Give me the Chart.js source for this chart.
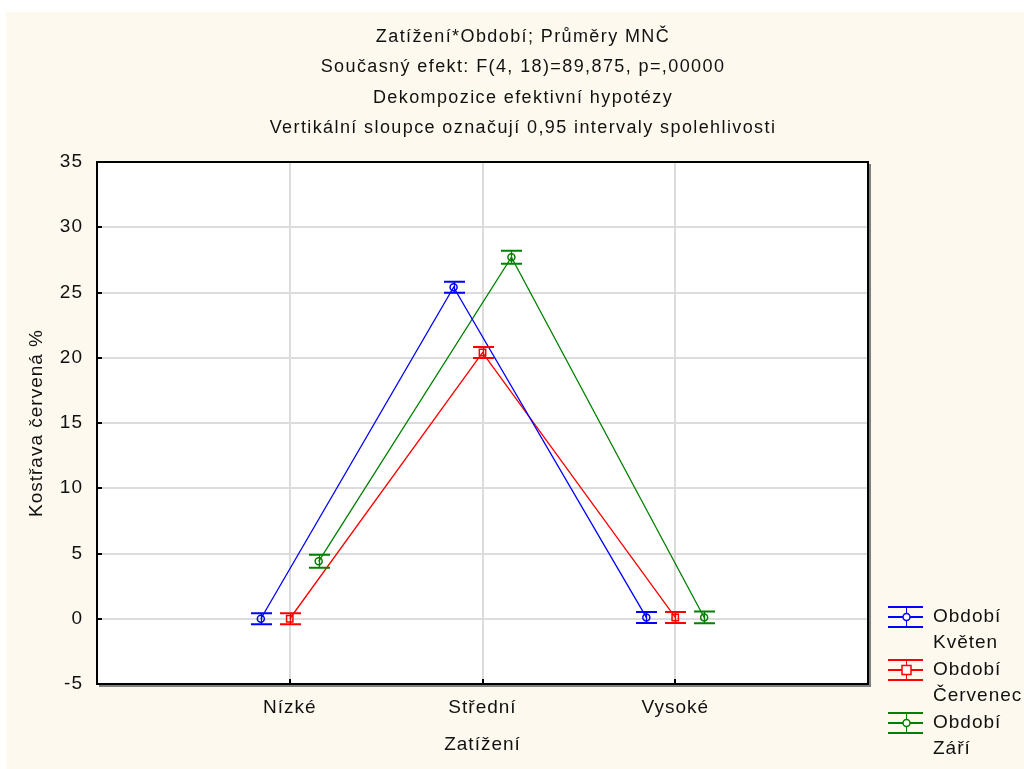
<!DOCTYPE html>
<html>
<head>
<meta charset="utf-8">
<script src="https://cdn.jsdelivr.net/npm/chart.js@4/dist/chart.umd.min.js"></script>
<style>
  html, body { margin: 0; padding: 0; background: #fff; }
  #wrap { position: absolute; left: 6px; top: 12px; width: 1018px; height: 757px; }
</style>
</head>
<body>
<div id="wrap"><canvas id="my-chart" width="1018" height="757"></canvas></div>
<script>
// categories and series
const zatizeni = ['Nízké', 'Střední', 'Vysoké'];
const obdobi = ['Květen', 'Červenec', 'Září'];
const kveten = [0.0, 25.4, 0.1];
const kvetenCI = [0.42, 0.42, 0.42];
const cervenec = [0.0, 20.4, 0.1];
const cervenecCI = [0.42, 0.42, 0.42];
const zari = [4.4, 27.7, 0.1];
const zariCI = [0.5, 0.5, 0.45];
const titleLines = [
  'Zatížení*Období; Průměry MNČ',
  'Současný efekt: F(4, 18)=89,875, p=,00000',
  'Dekompozice efektivní hypotézy',
  'Vertikální sloupce označují 0,95 intervaly spolehlivosti'
];
const yTitle = 'Kostřava červená %';
const xTitle = 'Zatížení';

const FONT = '"Liberation Sans", Arial, sans-serif';
const colors = ['#0000ff', '#ff0000', '#008000'];
const shapes = ['circle', 'rect', 'circle'];
const offsets = [-0.15, 0, 0.15];

const makeSet = (i, vals, ci) => ({
  label: 'Období ' + obdobi[i],
  data: vals.map((v, j) => ({ x: j + 1 + offsets[i], y: v, ci: ci[j] })),
  borderColor: colors[i],
  borderWidth: 1.3,
  backgroundColor: 'rgba(0,0,0,0)',
  pointStyle: shapes[i],
  pointRadius: shapes[i] === 'rect' ? 4.5 : 3.5,
  pointBorderColor: colors[i],
  pointBorderWidth: 1.5,
  tension: 0
});

const datasets = [
  makeSet(0, kveten, kvetenCI),
  makeSet(1, cervenec, cervenecCI),
  makeSet(2, zari, zariCI)
];

// background, frame, error bars, titles and legend
const extras = {
  id: 'extras',
  beforeDraw(chart) {
    const { ctx, chartArea: a } = chart;
    ctx.letterSpacing = '1px';
    ctx.save();
    ctx.fillStyle = '#fef9ee';
    ctx.fillRect(0, 0, chart.width, chart.height);
    ctx.fillStyle = '#ffffff';
    ctx.fillRect(a.left, a.top, a.right - a.left, a.bottom - a.top);
    ctx.restore();
  },
  afterDatasetsDraw(chart) {
    const { ctx, chartArea: a, scales: { x, y } } = chart;
    ctx.save();
    // error bars
    chart.data.datasets.forEach((ds, i) => {
      ctx.strokeStyle = colors[i];
      ds.data.forEach(p => {
        const px = Math.round(x.getPixelForValue(p.x)) + 0.5;
        const hi = y.getPixelForValue(p.y + p.ci);
        const lo = y.getPixelForValue(p.y - p.ci);
        ctx.lineWidth = 1.3;
        ctx.beginPath();
        ctx.moveTo(px, hi); ctx.lineTo(px, lo);
        ctx.stroke();
        ctx.lineWidth = 2;
        ctx.beginPath();
        ctx.moveTo(px - 10.5, hi); ctx.lineTo(px + 10.5, hi);
        ctx.moveTo(px - 10.5, lo); ctx.lineTo(px + 10.5, lo);
        ctx.stroke();
      });
    });
    // frame with shadow
    ctx.strokeStyle = '#808080';
    ctx.lineWidth = 2;
    ctx.beginPath();
    ctx.moveTo(a.right + 2, a.top + 2); ctx.lineTo(a.right + 2, a.bottom + 2); ctx.lineTo(a.left + 2, a.bottom + 2);
    ctx.stroke();
    ctx.strokeStyle = '#000';
    ctx.strokeRect(a.left, a.top, a.right - a.left, a.bottom - a.top);
    // inner tick marks
    ctx.beginPath();
    y.ticks.forEach(t => {
      const py = Math.round(y.getPixelForValue(t.value));
      ctx.moveTo(a.left, py); ctx.lineTo(a.left + 5, py);
    });
    x.ticks.forEach(t => {
      const px = Math.round(x.getPixelForValue(t.value));
      ctx.moveTo(px, a.bottom); ctx.lineTo(px, a.bottom - 5);
    });
    ctx.stroke();
    ctx.restore();
  },
  afterDraw(chart) {
    const { ctx, chartArea: a } = chart;
    const cx = (a.left + a.right) / 2;
    ctx.save();
    ctx.fillStyle = '#111';
    ctx.textAlign = 'center';
    ctx.textBaseline = 'middle';
    ctx.font = '18px ' + FONT;
    ctx.letterSpacing = '1.4px';
    titleLines.forEach((t, i) => ctx.fillText(t, 517, 25 + i * 30.5));
    ctx.letterSpacing = '1px';

    ctx.font = '19px ' + FONT;
    ctx.fillText(xTitle, cx, 733);
    ctx.save();
    ctx.translate(31, (a.top + a.bottom) / 2);
    ctx.rotate(-Math.PI / 2);
    ctx.fillText(yTitle, 0, 0);
    ctx.restore();

    // legend
    ctx.textAlign = 'left';
    ctx.font = '19px ' + FONT;
    obdobi.forEach((name, i) => {
      const ly = 605 + i * 53;
      const lx = 882;
      ctx.strokeStyle = colors[i];
      ctx.lineWidth = 2;
      ctx.beginPath();
      ctx.moveTo(lx, ly); ctx.lineTo(lx + 35, ly);
      ctx.moveTo(lx, ly - 10); ctx.lineTo(lx + 35, ly - 10);
      ctx.moveTo(lx, ly + 10); ctx.lineTo(lx + 35, ly + 10);
      ctx.stroke();
      ctx.lineWidth = 1;
      ctx.beginPath();
      ctx.moveTo(lx + 18.5, ly - 10); ctx.lineTo(lx + 18.5, ly + 10);
      ctx.stroke();
      ctx.lineWidth = 1.5;
      ctx.fillStyle = '#fff';
      ctx.beginPath();
      if (shapes[i] === 'rect') ctx.rect(lx + 14, ly - 4.5, 9, 9);
      else ctx.arc(lx + 18.5, ly, 3.5, 0, Math.PI * 2);
      ctx.fill();
      ctx.stroke();
      ctx.fillStyle = '#111';
      ctx.fillText('Období', lx + 45, ly);
      ctx.fillText(name, lx + 45, ly + 26);
    });
    ctx.restore();
  }
};

const ctx = document.getElementById('my-chart').getContext('2d');
const myChart = new Chart(ctx, {
  type: 'line',
  data: { datasets },
  plugins: [extras],
  options: {
    responsive: false,
    animation: false,
    layout: { padding: { top: 150, right: 156, left: 0, bottom: 0 } },
    plugins: {
      legend: { display: false },
      title: { display: false },
      tooltip: { enabled: false }
    },
    scales: {
      x: {
        type: 'linear',
        min: 0,
        max: 4,
        afterBuildTicks: s => { s.ticks = [1, 2, 3].map(v => ({ value: v })); },
        afterFit: s => { s.height = 85; },
        ticks: {
          callback: v => zatizeni[v - 1],
          color: '#111',
          font: { family: FONT, size: 19 },
          padding: 12,
          maxRotation: 0
        },
        grid: { color: '#dcdcdc', lineWidth: 2, drawTicks: false },
        border: { display: false }
      },
      y: {
        min: -5,
        max: 35,
        afterFit: s => { s.width = 91; },
        ticks: {
          stepSize: 5,
          color: '#111',
          font: { family: FONT, size: 19 },
          padding: 14
        },
        grid: { color: '#dcdcdc', lineWidth: 2, drawTicks: false },
        border: { display: false }
      }
    }
  }
});
</script>
</body>
</html>
